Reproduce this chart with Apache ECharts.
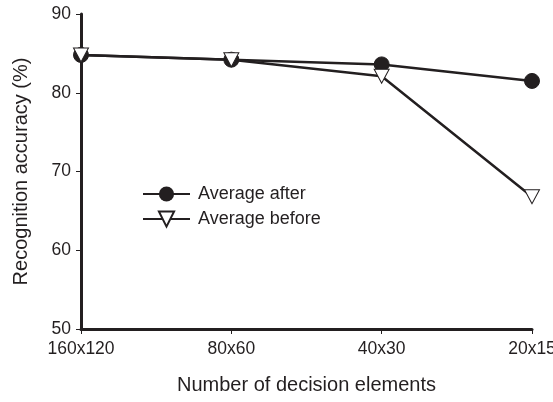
<!DOCTYPE html>
<html><head><meta charset="utf-8">
<script src="https://cdn.jsdelivr.net/npm/echarts@6/dist/echarts.min.js"></script>
<style>html,body{margin:0;padding:0;background:#fff}#c{width:553px;height:402px}</style>
</head><body><div id="c"></div>
<script>
var categories = ['160x120', '80x60', '40x30', '20x15'];
var averageAfter = [84.8, 84.2, 83.6, 81.5];
var averageBefore = [84.8, 84.2, 82.1, 66.8];
var yTicks = [50, 60, 70, 80, 90];

var ink = '#231f20';
var font = 'Liberation Sans, Arial, sans-serif';
var chart = echarts.init(document.getElementById('c'));
chart.setOption({
  animation: false,
  backgroundColor: '#fff',
  grid: {left: 81, right: 21, top: 14, bottom: 73, outerBoundsMode: 'none', containLabel: false},
  legend: {
    left: 137, top: 180, orient: 'vertical', itemGap: 7, itemWidth: 47, itemHeight: 19,
    textStyle: {fontFamily: font, fontSize: 18, color: ink, padding: [0,0,0,3]},
    data: ['Average after', 'Average before']
  },
  xAxis: {
    type: 'category', data: categories, boundaryGap: false,
    name: 'Number of decision elements', nameLocation: 'middle', nameGap: 46,
    nameTextStyle: {fontFamily: font, fontSize: 20, color: ink},
    axisLine: {lineStyle: {color: ink, width: 3}},
    axisTick: {alignWithLabel: true, length: 5, lineStyle: {color: ink, width: 1}},
    axisLabel: {fontFamily: font, fontSize: 17.5, color: ink, margin: 11, hideOverlap: false}
  },
  yAxis: {
    type: 'value', min: yTicks[0], max: yTicks[yTicks.length-1], interval: 10,
    name: 'Recognition accuracy (%)', nameLocation: 'middle', nameGap: 50,
    nameTextStyle: {fontFamily: font, fontSize: 20, color: ink},
    axisLine: {show: true, lineStyle: {color: ink, width: 3}},
    axisTick: {show: true, length: 5, lineStyle: {color: ink, width: 1}},
    axisLabel: {fontFamily: font, fontSize: 17.5, color: ink, margin: 10},
    splitLine: {show: false}
  },
  series: [
    {name: 'Average after', type: 'line', data: averageAfter, symbol: 'circle', symbolSize: 15,
     lineStyle: {color: ink, width: 2.5}, itemStyle: {color: ink, borderColor: ink}, z: 3},
    {name: 'Average before', type: 'line', data: averageBefore, symbol: 'triangle', symbolRotate: 180, symbolSize: [15, 14],
     lineStyle: {color: ink, width: 2.5}, itemStyle: {color: '#fff', borderColor: ink, borderWidth: 1}, z: 4}
  ]
});
</script></body></html>
